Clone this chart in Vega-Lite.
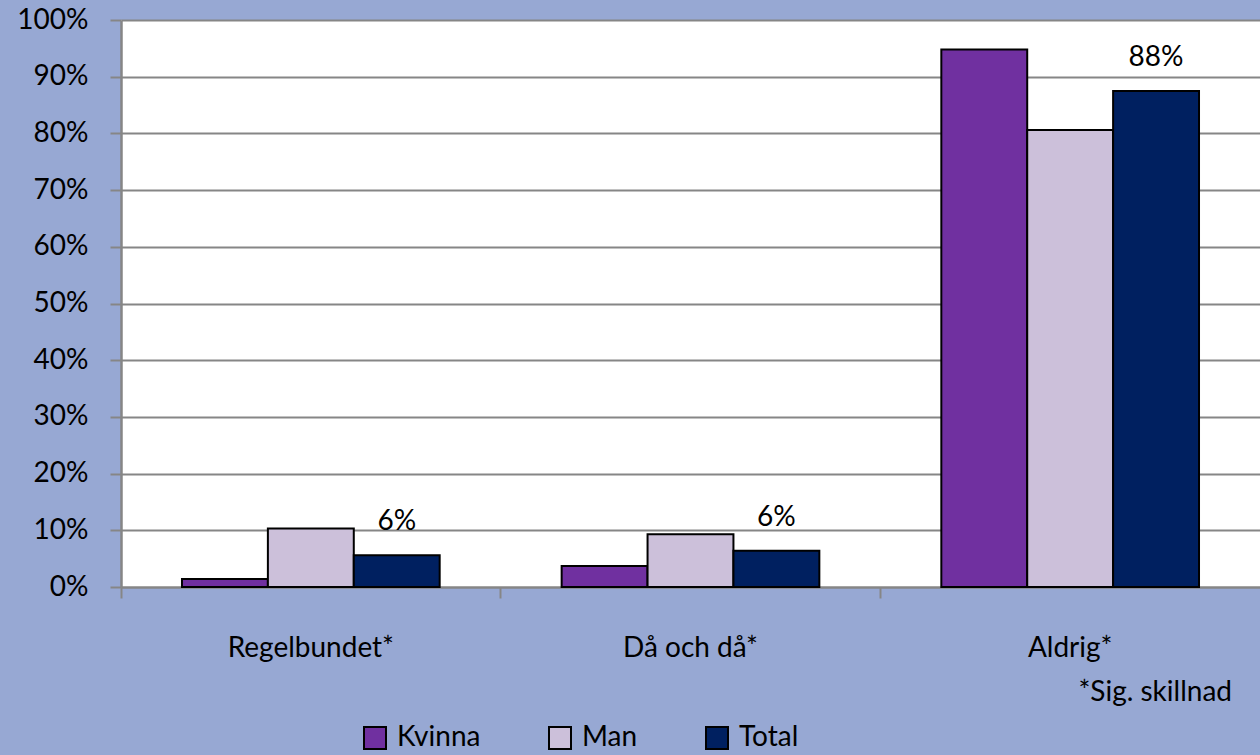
{
  "$schema": "https://vega.github.io/schema/vega-lite/v6.json",
  "width": 1139,
  "height": 567,
  "autosize": {"type": "none"},
  "padding": {"left": 121, "top": 20, "right": 0, "bottom": 168},
  "background": "#97a8d3",
  "config": {
    "view": {"fill": "white", "stroke": null},
    "font": "Lato"
  },
  "title": {
    "text": "*Sig. skillnad",
    "orient": "bottom",
    "anchor": "end",
    "fontSize": 28,
    "fontWeight": "normal",
    "font": "Lato",
    "color": "black",
    "offset": -74,
    "dx": -28
  },
  "data": {
    "values": [
      {"kategori": "Regelbundet*", "grupp": "Kvinna", "andel": 0.014},
      {"kategori": "Regelbundet*", "grupp": "Man", "andel": 0.103},
      {"kategori": "Regelbundet*", "grupp": "Total", "andel": 0.056},
      {"kategori": "Då och då*", "grupp": "Kvinna", "andel": 0.037},
      {"kategori": "Då och då*", "grupp": "Man", "andel": 0.093},
      {"kategori": "Då och då*", "grupp": "Total", "andel": 0.064},
      {"kategori": "Aldrig*", "grupp": "Kvinna", "andel": 0.948},
      {"kategori": "Aldrig*", "grupp": "Man", "andel": 0.806},
      {"kategori": "Aldrig*", "grupp": "Total", "andel": 0.875}
    ]
  },
  "encoding": {
    "x": {
      "field": "kategori",
      "type": "nominal",
      "sort": ["Regelbundet*", "Då och då*", "Aldrig*"],
      "scale": {"paddingInner": 0, "paddingOuter": 0},
      "axis": {
        "title": null,
        "labelAngle": 0,
        "bandPosition": 0,
        "tickSize": 11,
        "tickWidth": 2,
        "tickColor": "#868686",
        "domainColor": "#868686",
        "domainWidth": 2,
        "labelFontSize": 28,
        "labelColor": "black",
        "labelPadding": 36,
        "grid": false
      }
    },
    "xOffset": {
      "field": "grupp",
      "type": "nominal",
      "sort": ["Kvinna", "Man", "Total"],
      "scale": {"paddingInner": 0, "paddingOuter": 0.71}
    },
    "y": {
      "field": "andel",
      "type": "quantitative",
      "scale": {"domain": [0, 1], "nice": false},
      "axis": {
        "title": null,
        "values": [0, 0.1, 0.2, 0.3, 0.4, 0.5, 0.6, 0.7, 0.8, 0.9, 1],
        "format": ".0%",
        "tickSize": 11,
        "tickWidth": 2,
        "tickColor": "#868686",
        "domainColor": "#868686",
        "domainWidth": 2.5,
        "gridColor": "#868686",
        "gridWidth": 2,
        "gridOpacity": 1,
        "labelFontSize": 28,
        "labelColor": "black",
        "labelPadding": 22
      }
    }
  },
  "layer": [
    {
      "mark": {"type": "bar", "stroke": "black", "strokeWidth": 2},
      "encoding": {
        "color": {
          "field": "grupp",
          "type": "nominal",
          "scale": {
            "domain": ["Kvinna", "Man", "Total"],
            "range": ["#7030A0", "#CCC0DA", "#002060"]
          },
          "legend": {
            "title": null,
            "orient": "none",
            "direction": "horizontal",
            "legendX": 240,
            "legendY": 704,
            "padding": 0,
            "symbolType": "square",
            "symbolSize": 484,
            "symbolStrokeColor": "black",
            "symbolStrokeWidth": 2,
            "symbolOpacity": 1,
            "labelFontSize": 28,
            "labelColor": "black",
            "labelOffset": 8,
            "columnPadding": 64,
            "labelLimit": 300
          }
        }
      }
    },
    {
      "transform": [{"filter": "datum.grupp == 'Total'"}],
      "mark": {"type": "text", "baseline": "middle", "dy": -33, "fontSize": 28, "color": "black"},
      "encoding": {
        "text": {"field": "andel", "type": "quantitative", "format": ".0%"}
      }
    }
  ]
}
